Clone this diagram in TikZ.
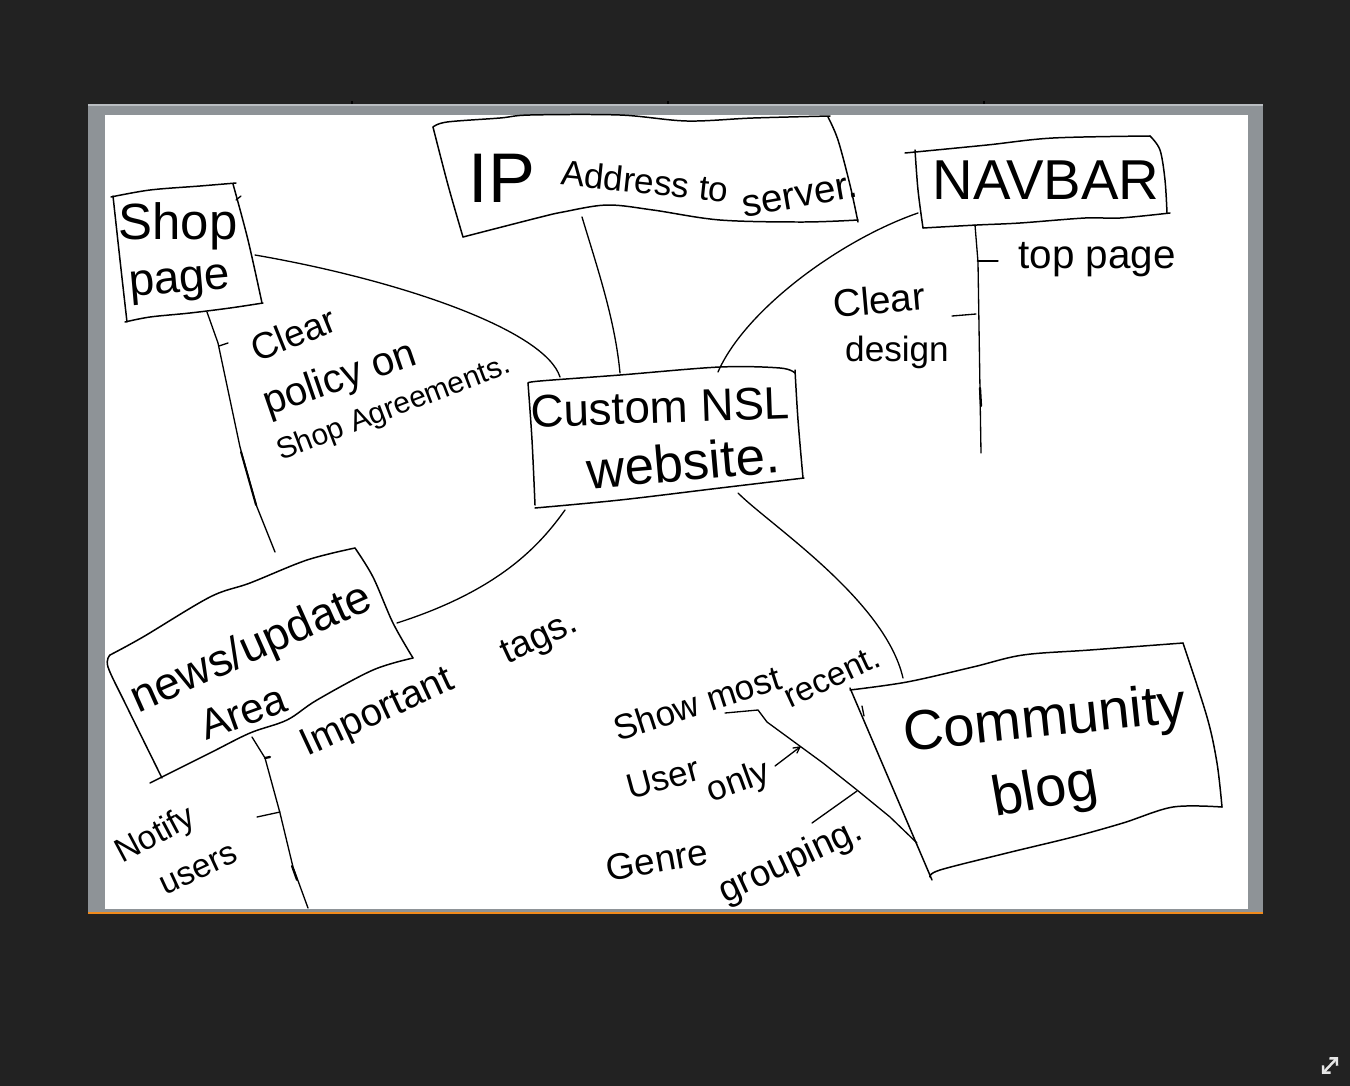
\documentclass[tikz,border=0pt]{standalone}
\usepackage{fontspec}
\setmainfont{Liberation Sans}
\usetikzlibrary{arrows.meta}
\definecolor{bgdark}{HTML}{222222}
\definecolor{framegray}{HTML}{8E9397}
\definecolor{framelight}{HTML}{B9BDC1}
\definecolor{edgeorange}{HTML}{F08A1C}
\definecolor{iconwhite}{HTML}{E6E6E6}
\newcommand\handsize[1]{\fontsize{#1}{#1}\selectfont}
\tikzset{
  ink/.style={draw=black, line width=0.75pt, line cap=round, line join=round},
  boxline/.style={draw=black, line width=0.85pt, line cap=round, line join=round},
  hand/.style={inner sep=0pt, text=black, anchor=center},
  edge/.style={smooth, tension=0.55},
}
\begin{document}
\begin{tikzpicture}[x=0.02cm, y=-0.02cm]
  % canvas and board frame
  \fill[bgdark] (0,0) rectangle (1350,1086);
  \useasboundingbox (0,0) rectangle (1350,1086);
  \fill[framegray] (88,104) rectangle (1263,913);
  \draw[framelight, line width=0.6pt] (88,105) -- (1263,105);
  \fill[white] (105,115) rectangle (1248,909);
  \fill[edgeorange] (88,911.5) rectangle (1263,914);
  \foreach \t in {352,668,984} \draw[black, line width=1.2pt] (\t,101) -- (\t,104);

  % ---------- boxes ----------
  % Shop page
  \draw[boxline] plot[edge] coordinates {(111,197) (150,190) (200,186) (236,183)};
  \draw[boxline] plot[edge] coordinates {(233,184) (248,240) (262,303)};
  \draw[boxline] plot[edge] coordinates {(263,303) (230,308) (190,313) (150,317) (125,322)};
  \draw[boxline] plot[edge] coordinates {(113,196) (120,260) (127,322)};
  \draw[ink] (236,200) -- (241,196);
  \node[hand, font=\handsize{29}] (shop) at (178,226) {Shop};
  \node[hand, font=\handsize{26}, rotate=5] (page) at (180,285) {page};

  % IP address to server
  \draw[boxline] plot[edge] coordinates {(433,127) (447,122) (500,118) (530,115) (620,115) (687,121) (753,118) (830,116)};
  \draw[boxline] plot[edge] coordinates {(828,117) (838,140) (850,185) (858,222)};
  \draw[boxline] plot[edge] coordinates {(858,220) (803,222) (720,220) (653,210) (607,205) (563,212) (537,218) (463,237)};
  \draw[boxline] plot[edge] coordinates {(433,127) (448,185) (463,237)};
  \node[hand, font=\handsize{40}] (ip) at (502,178) {IP};
  \node[hand, font=\handsize{20}, rotate=-6] (addr) at (645,181) {Address to};
  \node[hand, font=\handsize{22}, rotate=10] (server) at (800,197) {server.};

  % NAVBAR
  \draw[boxline] plot[edge] coordinates {(905,153) (987,145) (1053,138) (1150,136)};
  \draw[boxline] plot[edge] coordinates {(1150,136) (1160,150) (1165,180) (1167,213)};
  \draw[boxline] plot[edge] coordinates {(1170,213) (1120,218) (1085,218) (1020,223) (977,225) (923,228)};
  \draw[boxline] plot[edge] coordinates {(915,150) (918,190) (923,228)};
  \node[hand, font=\handsize{32}] (navbar) at (1046,180) {NAVBAR};

  % Custom NSL website
  \draw[boxline] plot[edge] coordinates {(528,383) (540,381) (620,375) (720,367) (780,368) (795,373)};
  \draw[boxline] plot[edge] coordinates {(795,370) (798,420) (803,478)};
  \draw[boxline] plot[edge] coordinates {(804,478) (720,488) (620,500) (535,508)};
  \draw[boxline] plot[edge] coordinates {(528,383) (532,440) (535,505)};
  \node[hand, font=\handsize{26}, rotate=2] (custom) at (660,407) {Custom NSL};
  \node[hand, font=\handsize{30}, rotate=5] (website) at (683,462) {website.};

  % news/update Area
  \draw[boxline] plot[edge] coordinates {(110,655) (143,637) (210,597) (250,583) (307,560) (355,548)};
  \draw[boxline] plot[edge] coordinates {(355,548) (373,577) (393,623) (413,658)};
  \draw[boxline] plot[edge] coordinates {(413,658) (373,670) (317,700) (287,720) (250,733) (210,753) (150,783)};
  \draw[boxline] plot[edge] coordinates {(110,655) (108,667) (127,707) (162,778)};
  \node[hand, font=\handsize{26}, rotate=24] (news) at (252,650) {news/update};
  \node[hand, font=\handsize{24}, rotate=20] (area) at (243,712) {Area};

  % Community blog
  \draw[boxline] plot[edge] coordinates {(850,690) (907,682) (973,667) (1023,655) (1090,650) (1183,643)};
  \draw[boxline] plot[edge] coordinates {(1183,643) (1207,717) (1217,763) (1222,807)};
  \draw[boxline] plot[edge] coordinates {(1222,807) (1173,807) (1123,823) (1073,837) (1007,853) (940,870) (930,877)};
  \draw[boxline] (850,688) -- (932,880);
  \draw[ink] (862,706) -- (864,716);
  \node[hand, font=\handsize{32}, rotate=6] (community) at (1045,722) {Community};
  \node[hand, font=\handsize{32}, rotate=10] (blog) at (1045,793) {blog};

  % ---------- connector end points ----------
  \coordinate (shopE)  at (255,255);
  \coordinate (nslNW)  at (560,377);
  \coordinate (ipS)    at (582,217);
  \coordinate (nslN)   at (620,373);
  \coordinate (navW)   at (918,213);
  \coordinate (nslNE)  at (718,372);
  \coordinate (nslSW)  at (565,510);
  \coordinate (newsE)  at (397,623);
  \coordinate (nslSE)  at (738,493);
  \coordinate (blogN)  at (903,678);
  \coordinate (shopS)  at (207,312);
  \coordinate (shopEnd) at (275,552);
  \coordinate (navS)   at (975,225);
  \coordinate (navEnd) at (981,453);
  \coordinate (newsS)  at (252,737);
  \coordinate (newsEnd) at (308,908);
  \coordinate (blogW)  at (917,843);
  \coordinate (recentA) at (725,713);

  % ---------- connectors ----------
  \draw[ink] (shopE) .. controls (400,280) and (545,330) .. (nslNW);
  \draw[ink] (ipS) .. controls (598,270) and (615,320) .. (nslN);
  \draw[ink] (navW) .. controls (840,240) and (745,310) .. (nslNE);
  \draw[ink] (nslSW) .. controls (540,545) and (500,590) .. (newsE);
  \draw[ink] (nslSE) .. controls (770,525) and (885,600) .. (blogN);

  % branch stems
  \draw[ink] (shopS) -- (218,343) -- (240,447) -- (257,507) -- (shopEnd);
  \draw[ink, line width=1.1pt] (241,452) -- (256,505);
  \draw[ink] (219,346) -- (228,343);

  \draw[ink] (navS) -- (978,262) -- (980,390) -- (navEnd);
  \draw[ink] (978,261) -- (998,261);
  \draw[ink, line width=1.6pt] (978,261) -- (987,261);
  \draw[ink] (952,316) -- (976,314);
  \draw[ink, line width=1.3pt] (980,388) -- (981,406);

  \draw[ink] (newsS) -- (265,758) -- (280,813) -- (293,867) -- (newsEnd);
  \draw[ink, line width=1.3pt] (265,758) -- (270,757);
  \draw[ink] (257,817) -- (280,812);
  \draw[ink, line width=1.2pt] (292,866) -- (297,880);

  \draw[ink] (recentA) -- (758,710) -- (767,722) -- (823,763) -- (857,790) -- (890,817) -- (blogW);
  \draw[ink] (775,766) -- (800,747);
  \draw[ink] (793,748) -- (800,747) -- (797,753);
  \draw[ink] (812,823) -- (857,791);

  % ---------- annotations ----------
  \node[hand, font=\handsize{21}, rotate=22] (clearA) at (293,334) {Clear};
  \node[hand, font=\handsize{23}, rotate=19] (policy) at (340,380) {policy on};
  \node[hand, font=\handsize{17}, rotate=21] (agree) at (394,409) {Shop Agreements.};

  \node[hand, font=\handsize{23}] (toppage) at (1097,260) {top page};
  \node[hand, font=\handsize{22}, rotate=5] (clearB) at (879,300) {Clear};
  \node[hand, font=\handsize{20}] (design) at (897,352) {design};

  \node[hand, font=\handsize{22}, rotate=25] (important) at (378,714) {Important};
  \node[hand, font=\handsize{21}, rotate=25] (tags) at (540,640) {tags.};
  \node[hand, font=\handsize{19}, rotate=28] (notify) at (156,836) {Notify};
  \node[hand, font=\handsize{19}, rotate=25] (users) at (199,870) {users};

  \node[hand, font=\handsize{20}, rotate=18] (show) at (697,703) {Show most};
  \node[hand, font=\handsize{19}, rotate=25] (recent) at (832,677) {recent.};
  \node[hand, font=\handsize{20}, rotate=15] (user) at (663,778) {User};
  \node[hand, font=\handsize{20}, rotate=20] (only) at (739,783) {only};
  \node[hand, font=\handsize{21}, rotate=10] (genre) at (657,860) {Genre};
  \node[hand, font=\handsize{21}, rotate=25] (grouping) at (791,862) {grouping.};

  % expand icon
  \draw[iconwhite, line width=1.4pt, {Straight Barb[length=3pt]}-{Straight Barb[length=3pt]}] (1322,1074) -- (1338,1057);
\end{tikzpicture}
\end{document}
